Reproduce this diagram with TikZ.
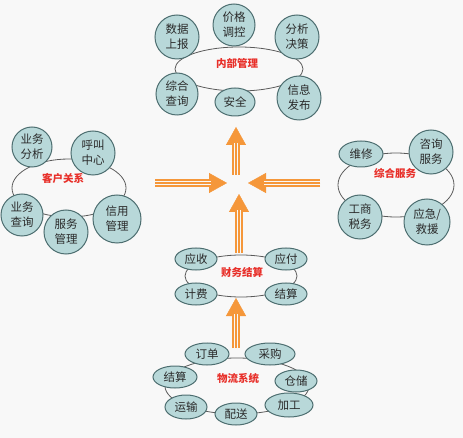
\documentclass[tikz,border=0pt]{standalone}
\usepackage{fontspec}
\setmainfont{Noto Sans CJK SC}
\usetikzlibrary{shapes.geometric,arrows.meta}
\definecolor{bubble}{HTML}{B8D8D9}
\definecolor{bubbleline}{HTML}{4D6E70}
\definecolor{ringline}{HTML}{5A5A5A}
\definecolor{arroworange}{HTML}{F5973A}
\definecolor{labelred}{HTML}{E8302A}
\definecolor{txt}{HTML}{2A2A2A}
\definecolor{bg}{HTML}{F8F8F8}
\begin{document}
\begin{tikzpicture}[x=1pt,y=-1pt,
 bub/.style={circle, draw=bubbleline, fill=bubble, line width=1pt, inner sep=0pt, align=center, font=\fontsize{11.5}{15}\selectfont, text=txt},
 ebub/.style={ellipse, draw=bubbleline, fill=bubble, line width=1pt, inner sep=0pt, align=center, font=\fontsize{11.5}{15}\selectfont, text=txt},
 ring/.style={ellipse, draw=ringline, line width=0.8pt, inner sep=0pt},
 grouplabel/.style={text=labelred, font=\bfseries\fontsize{10.5}{12}\selectfont, inner sep=0pt},
 shaft/.style={draw=arroworange, line width=1.7pt, double=bg, double distance=4.4pt, shorten >=16pt},
 shaftcore/.style={draw=arroworange, line width=1.6pt, shorten >=16pt},
 head/.style={draw=arroworange, line width=0.4pt, -{Triangle[length=18pt,width=20pt]}}
]
\fill[bg] (0,0) rectangle (463,438);
\useasboundingbox (0,0) rectangle (463,438);

% ---------- 内部管理 ----------
\node[ring, minimum width=128pt, minimum height=44pt] (tring) at (239,69) {};
\node[bub, minimum size=44pt] (t1) at (177,37) {数据\\上报};
\node[bub, minimum size=42pt] (t2) at (234,25) {价格\\调控};
\node[bub, minimum size=44pt] (t3) at (297,37) {分析\\决策};
\node[bub, minimum size=42pt] (t4) at (177,94) {综合\\查询};
\node[ebub, minimum width=40pt, minimum height=28pt] (t5) at (235,102) {安全};
\node[bub, minimum size=44pt] (t6) at (299,98) {信息\\发布};
\node[grouplabel] (tlab) at (237,63) {内部管理};

% ---------- 客户关系 ----------
\node[ring, minimum width=114pt, minimum height=58pt] (lring) at (69,188) {};
\node[bub, minimum size=40pt] (l1) at (32,147) {业务\\分析};
\node[bub, minimum size=44pt] (l2) at (93,153) {呼叫\\中心};
\node[bub, minimum size=42pt] (l3) at (22,215) {业务\\查询};
\node[bub, minimum size=44pt] (l4) at (66,232) {服务\\管理};
\node[bub, minimum size=48pt] (l5) at (117,219) {信用\\管理};
\node[grouplabel] (llab) at (63,178) {客户关系};

% ---------- 综合服务 ----------
\node[ring, minimum width=116pt, minimum height=64pt] (rring) at (396,185) {};
\node[ebub, minimum width=44pt, minimum height=26pt] (r1) at (361,154) {维修};
\node[bub, minimum size=44pt] (r2) at (431,152) {咨询\\服务};
\node[bub, minimum size=44pt] (r3) at (360,217) {工商\\税务};
\node[bub, minimum size=46pt] (r4) at (427,222) {应急/\\救援};
\node[grouplabel] (rlab) at (395,173) {综合服务};

% ---------- 财务结算 ----------
\node[ring, minimum width=112pt, minimum height=42pt] (mring) at (241,276) {};
\node[ebub, minimum width=42pt, minimum height=22pt] (m1) at (196,259) {应收};
\node[ebub, minimum width=42pt, minimum height=22pt] (m2) at (286,259) {应付};
\node[ebub, minimum width=42pt, minimum height=22pt] (m3) at (196,294) {计费};
\node[ebub, minimum width=42pt, minimum height=22pt] (m4) at (286,294) {结算};
\node[grouplabel] (mlab) at (242,272) {财务结算};

% ---------- 物流系统 ----------
\node[ring, minimum width=144pt, minimum height=56pt] (bring) at (237,386) {};
\node[ebub, minimum width=44pt, minimum height=22pt] (b1) at (207,354) {订单};
\node[ebub, minimum width=50pt, minimum height=22pt] (b2) at (270,354) {采购};
\node[ebub, minimum width=44pt, minimum height=22pt] (b3) at (175,377) {结算};
\node[ebub, minimum width=42pt, minimum height=22pt] (b4) at (296,381) {仓储};
\node[ebub, minimum width=42pt, minimum height=24pt] (b5) at (186,407) {运输};
\node[ebub, minimum width=42pt, minimum height=22pt] (b6) at (236,414) {配送};
\node[ebub, minimum width=48pt, minimum height=24pt] (b7) at (289,405) {加工};
\node[grouplabel] (blab) at (238,378) {物流系统};

% ---------- arrows ----------
\coordinate (a1s) at (236,348); \coordinate (a1t) at (236,298);
\coordinate (a2s) at (239,253); \coordinate (a2t) at (239,194);
\coordinate (a3s) at (236,175); \coordinate (a3t) at (236,127);
\coordinate (a4s) at (155,183); \coordinate (a4t) at (227,183);
\coordinate (a5s) at (320,183); \coordinate (a5t) at (248,183);
\foreach \s/\t in {a1s/a1t,a2s/a2t,a3s/a3t,a4s/a4t,a5s/a5t}{
  \draw[head] (\s) -- (\t);
  \draw[shaft] (\s) -- (\t);
  \draw[shaftcore] (\s) -- (\t);
}
\end{tikzpicture}
\end{document}
